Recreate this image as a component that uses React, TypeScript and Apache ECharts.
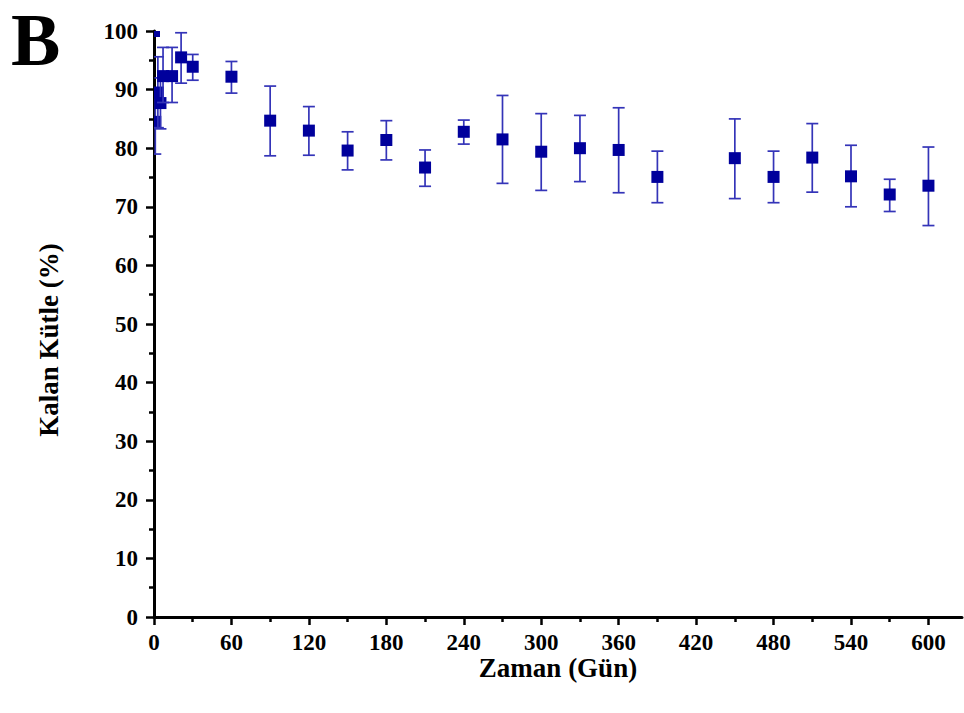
import React, { useEffect, useRef } from "react";
import * as echarts from "echarts";

const days = [0, 1, 3, 5, 7, 14, 21, 30, 60, 90, 120, 150, 180, 210, 240, 270, 300, 330, 360, 390, 450, 480, 510, 540, 570, 600];
const mass = [100, 84.5, 89.5, 87.7, 92.3, 92.3, 95.5, 93.9, 92.2, 84.7, 83.0, 79.6, 81.4, 76.7, 82.8, 81.5, 79.4, 80.0, 79.7, 75.1, 78.3, 75.1, 78.4, 75.2, 72.1, 73.6];
const lower = [100, 79.0, 83.5, 83.3, 87.8, 87.8, 91.1, 91.6, 89.4, 78.7, 78.8, 76.3, 78.0, 73.5, 80.7, 74.0, 72.8, 74.3, 72.4, 70.7, 71.4, 70.7, 72.5, 70.0, 69.2, 66.8];
const upper = [100, 89.5, 95.6, 92.0, 97.2, 97.2, 99.7, 96.0, 94.8, 90.6, 87.1, 82.8, 84.7, 79.7, 84.8, 89.0, 85.9, 85.6, 86.9, 79.5, 85.0, 79.5, 84.2, 80.5, 74.7, 80.2];
const xMajorTicks = [0, 60, 120, 180, 240, 300, 360, 420, 480, 540, 600];
const xMinorTicks = [30, 90, 150, 210, 270, 330, 390, 450, 510, 570];
const yAxisTitle = "Kalan Kütle (%)";
const xAxisTitle = "Zaman (Gün)";
const panelLabel = "B";

const FONT = "'Liberation Serif', 'Times New Roman', serif";
const MARKER = "#00009c";
const BAR = "#3434b8";

export default function App() {
  const ref = useRef<HTMLDivElement>(null);
  useEffect(() => {
    if (!ref.current) return;
    const chart = echarts.init(ref.current, null, { renderer: "svg" });
    const data = days.map((d, i) => [d, mass[i], lower[i], upper[i]]);
    const axisLine = { show: true, lineStyle: { color: "#000", width: 3 } };
    chart.setOption({
      animation: false,
      backgroundColor: "#fff",
      grid: { left: 154, right: 2, top: 31, bottom: 96, containLabel: false },
      graphic: [
        {
          type: "text",
          left: 11,
          top: 3,
          style: { text: panelLabel, font: `bold 74px ${FONT}`, fill: "#000", lineHeight: 50 },
        },
        {
          type: "text",
          x: 49,
          y: 340,
          rotation: Math.PI / 2,
          style: {
            text: yAxisTitle,
            font: `bold 27px ${FONT}`,
            fill: "#000",
            align: "center",
            verticalAlign: "middle",
          },
        },
      ],
      xAxis: [
        {
          type: "value",
          min: 0,
          max: 626,
          interval: 60,
          position: "bottom",
          axisLine,
          splitLine: { show: false },
          axisTick: { show: true, length: 8, customValues: xMajorTicks, lineStyle: { color: "#000", width: 2.5 } },
          axisLabel: {
            customValues: xMajorTicks,
            margin: 14,
            color: "#000",
            fontFamily: FONT,
            fontWeight: "bold",
            fontSize: 23,
          },
          name: xAxisTitle,
          nameLocation: "middle",
          nameGap: 51,
          nameMoveOverlap: false,
          nameTextStyle: { color: "#000", fontFamily: FONT, fontWeight: "bold", fontSize: 27, verticalAlign: "middle" },
        },
        {
          type: "value",
          min: 0,
          max: 626,
          position: "bottom",
          gridIndex: 0,
          axisLine: { show: false },
          splitLine: { show: false },
          axisLabel: { show: false },
          axisTick: { show: true, length: 5, customValues: xMinorTicks, lineStyle: { color: "#000", width: 2.5 } },
        },
      ],
      yAxis: {
        type: "value",
        min: 0,
        max: 100,
        interval: 10,
        axisLine,
        splitLine: { show: false },
        axisTick: { show: true, length: 8, lineStyle: { color: "#000", width: 2.5 } },
        minorTick: { show: true, splitNumber: 2, length: 5, lineStyle: { color: "#000", width: 2.5 } },
        minorSplitLine: { show: false },
        axisLabel: {
          margin: 16,
          color: "#000",
          fontFamily: FONT,
          fontWeight: "bold",
          fontSize: 23,
        },
      },
      series: [
        {
          type: "custom",
          xAxisIndex: 0,
          yAxisIndex: 0,
          clip: true,
          data,
          encode: { x: 0, y: 1 },
          renderItem: (params: any, api: any) => {
            const x = api.value(0);
            const v = api.value(1);
            const lo = api.value(2);
            const hi = api.value(3);
            const p = api.coord([x, v]);
            const pl = api.coord([x, lo]);
            const ph = api.coord([x, hi]);
            const cap = 6;
            const half = 6;
            const children: any[] = [];
            if (hi > lo) {
              const st = { stroke: BAR, lineWidth: 1.7 };
              children.push({ type: "line", shape: { x1: p[0], y1: ph[1], x2: p[0], y2: pl[1] }, style: st });
              children.push({ type: "line", shape: { x1: p[0] - cap, y1: ph[1], x2: p[0] + cap, y2: ph[1] }, style: st });
              children.push({ type: "line", shape: { x1: p[0] - cap, y1: pl[1], x2: p[0] + cap, y2: pl[1] }, style: st });
            }
            children.push({
              type: "rect",
              shape: { x: p[0] - half, y: p[1] - half, width: half * 2, height: half * 2 },
              style: { fill: MARKER },
            });
            return { type: "group", children };
          },
        },
      ],
    });
    return () => chart.dispose();
  }, []);
  return <div ref={ref} style={{ position: "fixed", left: 0, top: 0, width: 964, height: 713 }} />;
}
